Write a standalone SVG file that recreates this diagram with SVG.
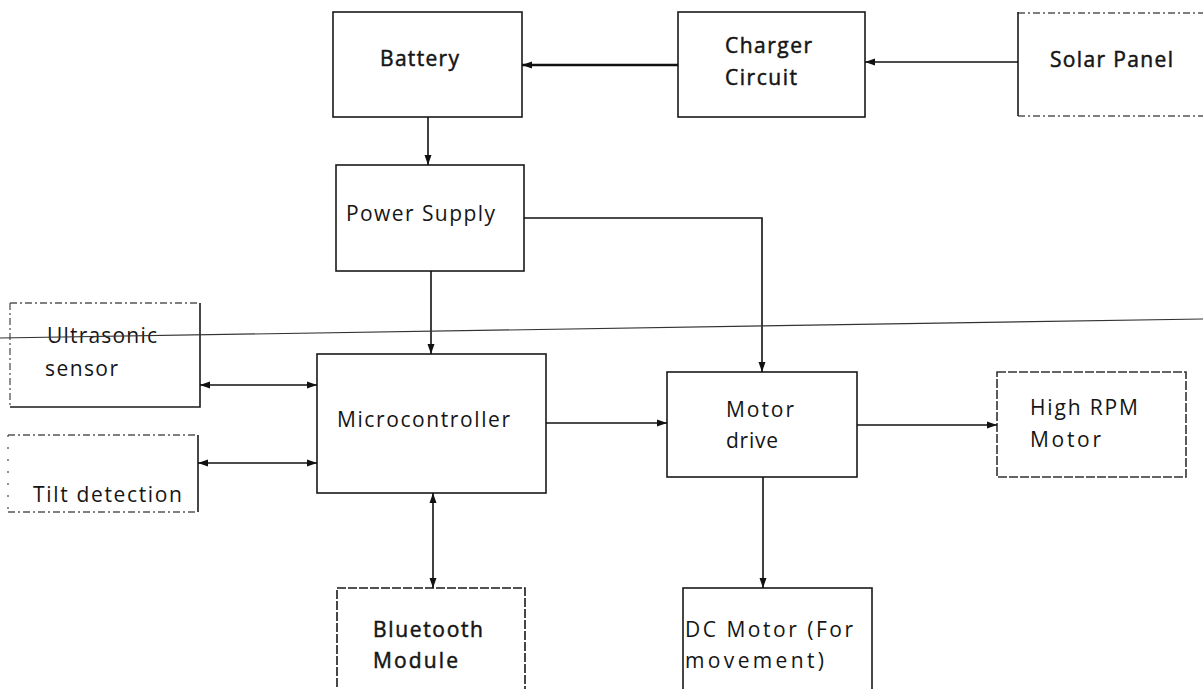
<svg xmlns="http://www.w3.org/2000/svg" width="1203" height="689" viewBox="0 0 1203 689">
<style>
.box{fill:#fff;stroke:#1a1a1a;stroke-width:1.6}
.faint{fill:none;stroke:#555;stroke-width:1.3;stroke-dasharray:7 3 2 3}
.solid{fill:none;stroke:#1a1a1a;stroke-width:1.6}
.lbl{font-family:"Open Sans","DejaVu Sans",sans-serif;font-size:21px;fill:#151515}
.bold{stroke:#151515;stroke-width:0.5}
.wire{fill:none;stroke:#111;stroke-width:1.6}
.thick{stroke-width:2.6}
</style>
<defs>
<marker id="arr" markerUnits="userSpaceOnUse" markerWidth="10" markerHeight="10" viewBox="0 0 10 10" refX="10" refY="5" orient="auto">
<path d="M0,1.5 L10,5 L0,8.5 Z" fill="#111"/>
</marker>
<marker id="arrS" markerUnits="userSpaceOnUse" markerWidth="10" markerHeight="10" viewBox="0 0 10 10" refX="0" refY="5" orient="auto">
<path d="M10,1.5 L0,5 L10,8.5 Z" fill="#111"/>
</marker>
</defs>
<rect width="1203" height="689" fill="#fff"/>

<g id="battery">
<rect class="box" x="333" y="12" width="189" height="105"/>
<text class="lbl bold" x="380" y="66" textLength="79" lengthAdjust="spacing">Battery</text>
</g>
<g id="charger">
<rect class="box" x="678" y="12" width="187" height="105"/>
<text class="lbl bold" x="725" y="53" textLength="87" lengthAdjust="spacing">Charger</text>
<text class="lbl bold" x="725" y="85" textLength="72" lengthAdjust="spacing">Circuit</text>
</g>
<g id="solar">
<path class="faint" d="M1018,13 H1210"/>
<path class="faint" d="M1018,116 H1210"/>
<path class="solid" d="M1018,12 V116"/>
<text class="lbl bold" x="1050" y="67" textLength="123" lengthAdjust="spacing">Solar Panel</text>
</g>
<g id="power">
<rect class="box" x="336" y="165" width="188" height="106"/>
<text class="lbl" x="346" y="221" textLength="149" lengthAdjust="spacing">Power Supply</text>
</g>
<g id="ultrasonic">
<path class="faint" d="M10,303 H200"/>
<path class="faint" d="M10,303 V407"/>
<path class="solid" d="M200,303 V407 H10"/>
<text class="lbl" x="47" y="343" textLength="110" lengthAdjust="spacing" fill="#333">Ultrasonic</text>
<text class="lbl" x="45" y="376" textLength="73" lengthAdjust="spacing">sensor</text>
</g>
<g id="tilt">
<path class="faint" d="M8,435 H198"/>
<path class="faint" d="M8,512 H198"/>
<path class="faint" d="M8,435 V512" style="stroke-dasharray:2 10"/>
<path class="solid" d="M198,435 V512"/>
<text class="lbl" x="33" y="502" textLength="149" lengthAdjust="spacing">Tilt detection</text>
</g>
<g id="micro">
<rect class="box" x="317" y="354" width="229" height="139"/>
<text class="lbl" x="337" y="427" textLength="173" lengthAdjust="spacing">Microcontroller</text>
</g>
<g id="motordrive">
<rect class="box" x="667" y="372" width="190" height="105"/>
<text class="lbl" x="726" y="417" textLength="68" lengthAdjust="spacing">Motor</text>
<text class="lbl" x="726" y="448" textLength="52" lengthAdjust="spacing">drive</text>
</g>
<g id="highrpm">
<rect class="box" x="997" y="372" width="189" height="105" style="stroke:#333;stroke-dasharray:9 2"/>
<text class="lbl" x="1030" y="415" textLength="108" lengthAdjust="spacing">High RPM</text>
<text class="lbl" x="1030" y="447" textLength="71" lengthAdjust="spacing">Motor</text>
</g>
<g id="bluetooth">
<rect class="box" x="337" y="588" width="188" height="120" style="stroke-dasharray:9 2"/>
<text class="lbl bold" x="373" y="637" textLength="110" lengthAdjust="spacing">Bluetooth</text>
<text class="lbl bold" x="373" y="668" textLength="85" lengthAdjust="spacing">Module</text>
</g>
<g id="dcmotor">
<rect class="box" x="683" y="588" width="189" height="120"/>
<text class="lbl" x="685" y="637" textLength="168" lengthAdjust="spacing">DC Motor (For</text>
<text class="lbl" x="685" y="668" textLength="139" lengthAdjust="spacing">movement)</text>
</g>

<g id="connectors">
<path class="wire thick" d="M678,65 H522" marker-end="url(#arr)"/>
<path class="wire" d="M1018,62 H865" marker-end="url(#arr)"/>
<path class="wire" d="M428,117 V165" marker-end="url(#arr)"/>
<path class="wire" d="M524,218 H762 V372" marker-end="url(#arr)"/>
<path class="wire" d="M431,271 V354" marker-end="url(#arr)"/>
<path class="wire" d="M200,385 H317" marker-start="url(#arrS)" marker-end="url(#arr)"/>
<path class="wire" d="M198,463 H317" marker-start="url(#arrS)" marker-end="url(#arr)"/>
<path class="wire" d="M546,423 H667" marker-end="url(#arr)"/>
<path class="wire" d="M433,493 V588" marker-start="url(#arrS)" marker-end="url(#arr)"/>
<path class="wire" d="M857,425 H997" marker-end="url(#arr)"/>
<path class="wire" d="M763,477 V588" marker-end="url(#arr)"/>
</g>
<line x1="0" y1="338" x2="1203" y2="319" stroke="#333" stroke-width="1.2"/>
</svg>
